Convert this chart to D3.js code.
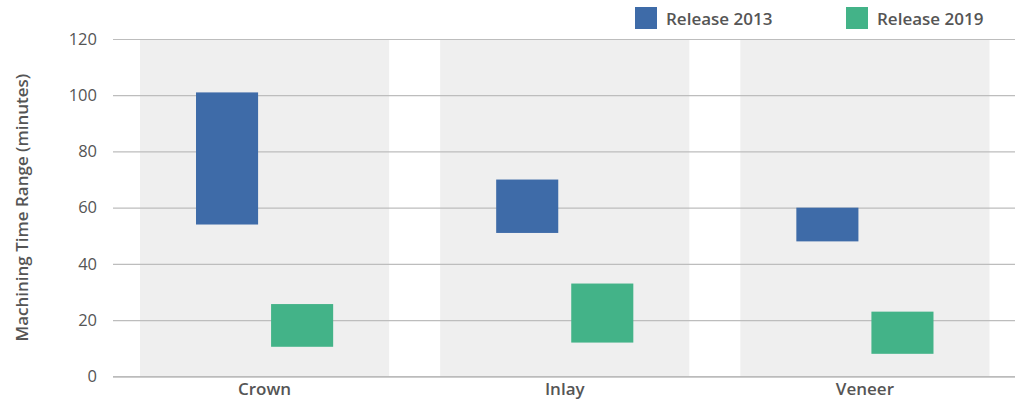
<!DOCTYPE html>
<html>
<head>
<meta charset="utf-8">
<script src="https://cdn.jsdelivr.net/npm/d3@7"></script>
<style>
  html, body { margin: 0; padding: 0; background: #fff; }
  svg { display: block; font-family: "Open Sans", Lato, sans-serif; }
</style>
</head>
<body>
<svg id="chart" width="1019" height="408"></svg>
<script>
const categories = ["Crown", "Inlay", "Veneer"];
const seriesNames = ["Release 2013", "Release 2019"];
const lowValues2013 = [54, 51, 48];
const highValues2013 = [101, 70, 60];
const lowValues2019 = [10.5, 12, 8];
const highValues2019 = [25.7, 33, 23];
const yTicks = [0, 20, 40, 60, 80, 100, 120];
const colors = ["#3e6ba8", "#43b388"];

const svg = d3.select("#chart");
const margin = { left: 113, right: 4, top: 39, bottom: 32 };
const W = 1019, H = 408;
const FONT = "'Open Sans', sans-serif";
const FS = 17;

const x = d3.scaleBand().domain(categories)
  .range([margin.left + 1.5, W - margin.right])
  .paddingInner(0.17).paddingOuter(0.085);
const xs = d3.scaleBand().domain(seriesNames)
  .range([0, x.bandwidth()])
  .paddingInner(0.173).paddingOuter(0.746);
const y = d3.scaleLinear().domain([0, 120]).range([376.3, 39]);

// background bands
svg.append("g").selectAll("rect").data(categories).join("rect")
  .attr("x", d => x(d)).attr("width", x.bandwidth())
  .attr("y", y(120)).attr("height", y(0) - y(120))
  .attr("fill", "#efefef");

// gridlines + y axis
const yAxis = d3.axisLeft(y).tickValues(yTicks)
  .tickSize(-(W - margin.right - margin.left)).tickPadding(16);
const gy = svg.append("g").attr("transform", `translate(${margin.left},0)`).call(yAxis);
gy.select(".domain").remove();
gy.selectAll(".tick line").attr("stroke", "#bdbdbd").attr("stroke-width", 1.2);
gy.selectAll(".tick text").attr("fill", "#555").attr("font-size", 16.5)
  .attr("font-family", FONT);

// bars
const series = [
  { name: seriesNames[0], low: lowValues2013, high: highValues2013 },
  { name: seriesNames[1], low: lowValues2019, high: highValues2019 }
];
series.forEach((s, si) => {
  svg.append("g").selectAll("rect").data(categories).join("rect")
    .attr("x", (d) => x(d) + xs(s.name))
    .attr("width", xs.bandwidth())
    .attr("y", (d, i) => y(s.high[i]))
    .attr("height", (d, i) => y(s.low[i]) - y(s.high[i]))
    .attr("fill", colors[si]);
});

// x axis
const xAxis = d3.axisBottom(x).tickSize(0);
const gx = svg.append("g").attr("transform", `translate(0,${y(0)})`).call(xAxis);
gx.select(".domain").attr("stroke", "#bbb").attr("stroke-width", 1.5)
  .attr("d", `M${margin.left},0.5H${W - margin.right}`);
gx.selectAll(".tick text").attr("fill", "#555").attr("font-size", FS)
  .attr("font-weight", 600).attr("font-family", FONT)
  .attr("dy", null).attr("y", 19);

// y title
svg.append("text")
  .attr("transform", `translate(28,${(y(0) + y(120)) / 2}) rotate(-90)`)
  .attr("text-anchor", "middle")
  .attr("fill", "#555").attr("font-size", FS).attr("font-weight", 600)
  .text("Machining Time Range (minutes)");

// legend
const legendX = [635, 846];
seriesNames.forEach((n, i) => {
  const g = svg.append("g").attr("transform", `translate(${legendX[i]},7)`);
  g.append("rect").attr("width", 22).attr("height", 22).attr("fill", colors[i]);
  g.append("text").attr("x", 31).attr("y", 18)
    .attr("fill", "#555").attr("font-size", FS).attr("font-weight", 600)
    .text(n);
});
</script>
</body>
</html>
